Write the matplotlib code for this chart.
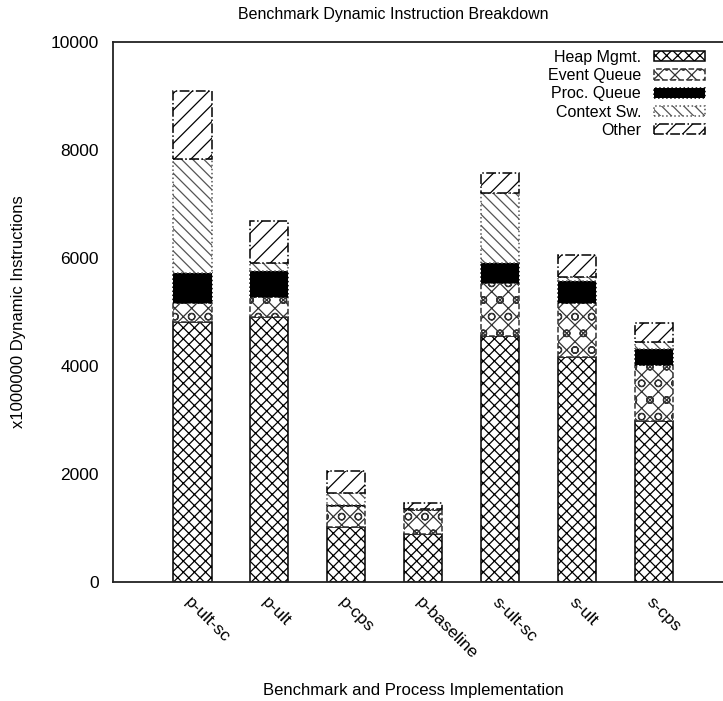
import numpy as np
import matplotlib
matplotlib.use("Agg")
import matplotlib.pyplot as plt

plt.rcParams['font.family'] = ['Liberation Sans', 'DejaVu Sans']
plt.rcParams['hatch.linewidth'] = 0.9

categories = ['p-ult-sc', 'p-ult', 'p-cps', 'p-baseline', 's-ult-sc', 's-ult', 's-cps']
heap = [4815, 4905, 1020, 890, 4555, 4165, 2980]
event = [352, 373, 387, 443, 982, 1002, 1039]
proc = [555, 481, 10, 5, 370, 407, 296]
context = [2111, 148, 231, 10, 1297, 74, 129]
other = [1260, 778, 408, 115, 370, 408, 352]

series = [
    ('Heap Mgmt.', heap, dict(facecolor='white', edgecolor='black', hatch='xxx', linestyle='-')),
    ('Event Queue', event, dict(facecolor='white', edgecolor='#333333', hatch='oxx', linestyle='--')),
    ('Proc. Queue', proc, dict(facecolor='black', edgecolor='black', hatch=None, linestyle=':')),
    ('Context Sw.', context, dict(facecolor='white', edgecolor='#555555', hatch='\\\\\\', linestyle=':')),
    ('Other', other, dict(facecolor='white', edgecolor='black', hatch='//', linestyle='-.')),
]

W, H = 723, 701
fig = plt.figure(figsize=(W / 100, H / 100), dpi=100)
ax = fig.add_axes([113 / W, (H - 582) / H, (W - 113) / W, 540 / H])

x = np.arange(len(categories))
bottom = np.zeros(len(categories))
for label, vals, style in series:
    ax.bar(x, vals, width=0.5, bottom=bottom, label=label, linewidth=1.1, **style)
    bottom += np.array(vals)

ax.set_ylim(0, 10000)
ax.set_xlim(-1.03, (W - 192) / 77)
ax.set_yticks([0, 2000, 4000, 6000, 8000, 10000])
ax.tick_params(axis='y', length=0, pad=10, labelsize=12.5)
ax.tick_params(axis='x', length=0, pad=9, labelsize=12.5)
ax.set_xticks(x)
ax.set_xticklabels(categories, rotation=-45, ha='left', va='top', rotation_mode='anchor')
ax.spines['right'].set_visible(False)
for s in ['left', 'bottom', 'top']:
    ax.spines[s].set_linewidth(1.3)
    ax.spines[s].set_color('#222222')

leg = ax.legend(loc='upper right', bbox_to_anchor=(705 / W, 1 - 50 / H), bbox_transform=fig.transFigure,
                frameon=False, markerfirst=False, fontsize=11.5, borderpad=0, borderaxespad=0,
                handlelength=3.2, handleheight=0.6, labelspacing=0.2, handletextpad=0.8)

fig.text(393 / W, 1 - 14 / H, 'Benchmark Dynamic Instruction Breakdown', ha='center', va='center', fontsize=11.5)
fig.text(413 / W, 11 / H, 'Benchmark and Process Implementation', ha='center', va='center', fontsize=12)
fig.text(19 / W, 1 - 312 / H, 'x1000000 Dynamic Instructions', ha='center', va='center',
         rotation=90, fontsize=12)

fig.savefig('out.png', dpi=100)
